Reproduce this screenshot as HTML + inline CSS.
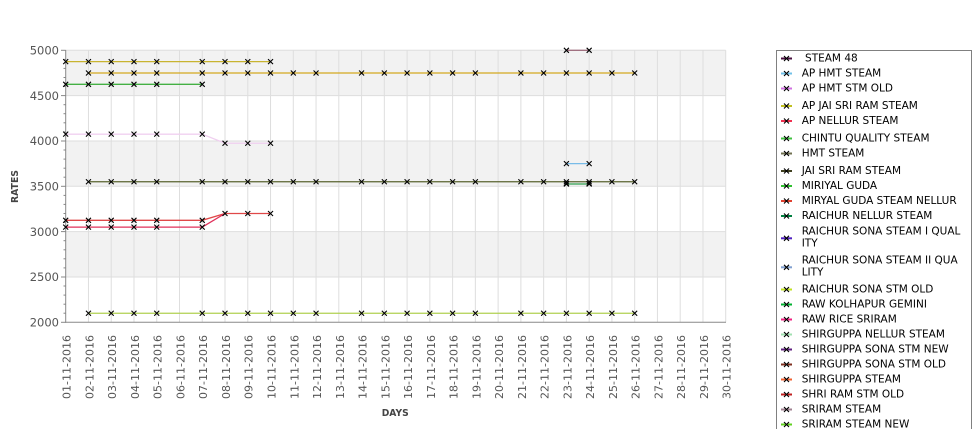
<!DOCTYPE html>
<html><head><meta charset="utf-8"><style>
html,body{margin:0;padding:0;background:#fff;}
svg{display:block;}
text{font-family:"DejaVu Sans","Liberation Sans",sans-serif;}
</style></head><body>
<svg width="975" height="429" viewBox="0 0 975 429" xmlns="http://www.w3.org/2000/svg">
<defs>
<path id="m" d="M-2.5,-2.5L2.5,2.5M2.5,-2.5L-2.5,2.5" stroke="#000" stroke-width="1.1" fill="none"/>
</defs>
<rect width="975" height="429" fill="#fff"/>
<!-- bands -->
<rect x="65.7" y="50.3" width="660" height="45.3" fill="#f2f2f2"/>
<rect x="65.7" y="141" width="660" height="45.3" fill="#f2f2f2"/>
<rect x="65.7" y="231.6" width="660" height="45.4" fill="#f2f2f2"/>
<!-- grid -->
<g stroke="#dedede" stroke-width="1">
<line x1="65.7" x2="725.7" y1="50.3" y2="50.3"/>
<line x1="65.7" x2="725.7" y1="95.6" y2="95.6"/>
<line x1="65.7" x2="725.7" y1="141" y2="141"/>
<line x1="65.7" x2="725.7" y1="186.3" y2="186.3"/>
<line x1="65.7" x2="725.7" y1="231.6" y2="231.6"/>
<line x1="65.7" x2="725.7" y1="277" y2="277"/>
<line x1="88.46" x2="88.46" y1="50.3" y2="322.3"/>
<line x1="111.22" x2="111.22" y1="50.3" y2="322.3"/>
<line x1="133.98" x2="133.98" y1="50.3" y2="322.3"/>
<line x1="156.74" x2="156.74" y1="50.3" y2="322.3"/>
<line x1="179.5" x2="179.5" y1="50.3" y2="322.3"/>
<line x1="202.25" x2="202.25" y1="50.3" y2="322.3"/>
<line x1="225.01" x2="225.01" y1="50.3" y2="322.3"/>
<line x1="247.77" x2="247.77" y1="50.3" y2="322.3"/>
<line x1="270.53" x2="270.53" y1="50.3" y2="322.3"/>
<line x1="293.29" x2="293.29" y1="50.3" y2="322.3"/>
<line x1="316.05" x2="316.05" y1="50.3" y2="322.3"/>
<line x1="338.81" x2="338.81" y1="50.3" y2="322.3"/>
<line x1="361.57" x2="361.57" y1="50.3" y2="322.3"/>
<line x1="384.33" x2="384.33" y1="50.3" y2="322.3"/>
<line x1="407.09" x2="407.09" y1="50.3" y2="322.3"/>
<line x1="429.85" x2="429.85" y1="50.3" y2="322.3"/>
<line x1="452.61" x2="452.61" y1="50.3" y2="322.3"/>
<line x1="475.37" x2="475.37" y1="50.3" y2="322.3"/>
<line x1="498.12" x2="498.12" y1="50.3" y2="322.3"/>
<line x1="520.88" x2="520.88" y1="50.3" y2="322.3"/>
<line x1="543.64" x2="543.64" y1="50.3" y2="322.3"/>
<line x1="566.4" x2="566.4" y1="50.3" y2="322.3"/>
<line x1="589.16" x2="589.16" y1="50.3" y2="322.3"/>
<line x1="611.92" x2="611.92" y1="50.3" y2="322.3"/>
<line x1="634.68" x2="634.68" y1="50.3" y2="322.3"/>
<line x1="657.44" x2="657.44" y1="50.3" y2="322.3"/>
<line x1="680.2" x2="680.2" y1="50.3" y2="322.3"/>
<line x1="702.96" x2="702.96" y1="50.3" y2="322.3"/>
<line x1="725.7" x2="725.7" y1="50.3" y2="322.3"/>
</g>
<!-- axes -->
<g stroke="#888" stroke-width="1">
<line x1="65.7" x2="65.7" y1="50" y2="322.8"/>
<line x1="65.2" x2="726" y1="322.3" y2="322.3"/>
<line x1="61" x2="65.7" y1="50.3" y2="50.3"/>
<line x1="61" x2="65.7" y1="95.6" y2="95.6"/>
<line x1="61" x2="65.7" y1="141" y2="141"/>
<line x1="61" x2="65.7" y1="186.3" y2="186.3"/>
<line x1="61" x2="65.7" y1="231.6" y2="231.6"/>
<line x1="61" x2="65.7" y1="277" y2="277"/>
<line x1="61" x2="65.7" y1="322.3" y2="322.3"/>
</g>
<g stroke="#888" stroke-width="1">
<line x1="63.5" x2="65.7" y1="59.4" y2="59.4"/><line x1="63.5" x2="65.7" y1="68.4" y2="68.4"/><line x1="63.5" x2="65.7" y1="77.5" y2="77.5"/><line x1="63.5" x2="65.7" y1="86.5" y2="86.5"/>
<line x1="63.5" x2="65.7" y1="104.7" y2="104.7"/><line x1="63.5" x2="65.7" y1="113.7" y2="113.7"/><line x1="63.5" x2="65.7" y1="122.8" y2="122.8"/><line x1="63.5" x2="65.7" y1="131.9" y2="131.9"/>
<line x1="63.5" x2="65.7" y1="150" y2="150"/><line x1="63.5" x2="65.7" y1="159.1" y2="159.1"/><line x1="63.5" x2="65.7" y1="168.2" y2="168.2"/><line x1="63.5" x2="65.7" y1="177.2" y2="177.2"/>
<line x1="63.5" x2="65.7" y1="195.4" y2="195.4"/><line x1="63.5" x2="65.7" y1="204.4" y2="204.4"/><line x1="63.5" x2="65.7" y1="213.5" y2="213.5"/><line x1="63.5" x2="65.7" y1="222.5" y2="222.5"/>
<line x1="63.5" x2="65.7" y1="240.7" y2="240.7"/><line x1="63.5" x2="65.7" y1="249.8" y2="249.8"/><line x1="63.5" x2="65.7" y1="258.8" y2="258.8"/><line x1="63.5" x2="65.7" y1="267.9" y2="267.9"/>
<line x1="63.5" x2="65.7" y1="286" y2="286"/><line x1="63.5" x2="65.7" y1="295.1" y2="295.1"/><line x1="63.5" x2="65.7" y1="304.2" y2="304.2"/><line x1="63.5" x2="65.7" y1="313.2" y2="313.2"/>
</g>
<!-- y labels -->
<g font-size="11.5" fill="#555" text-anchor="end">
<text x="59" y="54.5">5000</text>
<text x="59" y="99.8">4500</text>
<text x="59" y="145.2">4000</text>
<text x="59" y="190.5">3500</text>
<text x="59" y="235.8">3000</text>
<text x="59" y="281.2">2500</text>
<text x="59" y="326.5">2000</text>
</g>
<!-- x labels -->
<g font-size="11" fill="#555" text-anchor="end">
<text transform="translate(66.7,335) rotate(-90)" dy="0.36em">01-11-2016</text>
<text transform="translate(89.46,335) rotate(-90)" dy="0.36em">02-11-2016</text>
<text transform="translate(112.22,335) rotate(-90)" dy="0.36em">03-11-2016</text>
<text transform="translate(134.98,335) rotate(-90)" dy="0.36em">04-11-2016</text>
<text transform="translate(157.74,335) rotate(-90)" dy="0.36em">05-11-2016</text>
<text transform="translate(180.5,335) rotate(-90)" dy="0.36em">06-11-2016</text>
<text transform="translate(203.25,335) rotate(-90)" dy="0.36em">07-11-2016</text>
<text transform="translate(226.01,335) rotate(-90)" dy="0.36em">08-11-2016</text>
<text transform="translate(248.77,335) rotate(-90)" dy="0.36em">09-11-2016</text>
<text transform="translate(271.53,335) rotate(-90)" dy="0.36em">10-11-2016</text>
<text transform="translate(294.29,335) rotate(-90)" dy="0.36em">11-11-2016</text>
<text transform="translate(317.05,335) rotate(-90)" dy="0.36em">12-11-2016</text>
<text transform="translate(339.81,335) rotate(-90)" dy="0.36em">13-11-2016</text>
<text transform="translate(362.57,335) rotate(-90)" dy="0.36em">14-11-2016</text>
<text transform="translate(385.33,335) rotate(-90)" dy="0.36em">15-11-2016</text>
<text transform="translate(408.09,335) rotate(-90)" dy="0.36em">16-11-2016</text>
<text transform="translate(430.85,335) rotate(-90)" dy="0.36em">17-11-2016</text>
<text transform="translate(453.61,335) rotate(-90)" dy="0.36em">18-11-2016</text>
<text transform="translate(476.37,335) rotate(-90)" dy="0.36em">19-11-2016</text>
<text transform="translate(499.12,335) rotate(-90)" dy="0.36em">20-11-2016</text>
<text transform="translate(521.88,335) rotate(-90)" dy="0.36em">21-11-2016</text>
<text transform="translate(544.64,335) rotate(-90)" dy="0.36em">22-11-2016</text>
<text transform="translate(567.4,335) rotate(-90)" dy="0.36em">23-11-2016</text>
<text transform="translate(590.16,335) rotate(-90)" dy="0.36em">24-11-2016</text>
<text transform="translate(612.92,335) rotate(-90)" dy="0.36em">25-11-2016</text>
<text transform="translate(635.68,335) rotate(-90)" dy="0.36em">26-11-2016</text>
<text transform="translate(658.44,335) rotate(-90)" dy="0.36em">27-11-2016</text>
<text transform="translate(681.2,335) rotate(-90)" dy="0.36em">28-11-2016</text>
<text transform="translate(703.96,335) rotate(-90)" dy="0.36em">29-11-2016</text>
<text transform="translate(726.7,335) rotate(-90)" dy="0.36em">30-11-2016</text>
</g>
<!-- axis titles -->
<text x="381.7" y="416" font-size="10" font-weight="bold" fill="#444" textLength="27" lengthAdjust="spacingAndGlyphs">DAYS</text>
<text transform="translate(18,203) rotate(-90)" font-size="10" font-weight="bold" fill="#444" textLength="33" lengthAdjust="spacingAndGlyphs">RATES</text>
<!-- series lines -->
<g fill="none" stroke-width="1.3">
<polyline stroke="#c8b430" points="65.7,61.63 88.46,61.63 111.22,61.63 133.98,61.63 156.74,61.63 202.25,61.63 225.01,61.63 247.77,61.63 270.53,61.63"/>
<polyline stroke="#d4a820" points="88.46,72.97 111.22,72.97 133.98,72.97 156.74,72.97 202.25,72.97 225.01,72.97 247.77,72.97 270.53,72.97 293.29,72.97 316.05,72.97 361.57,72.97 384.33,72.97 407.09,72.97 429.85,72.97 452.61,72.97 475.37,72.97 520.88,72.97 543.64,72.97 566.4,72.97 589.16,72.97 611.92,72.97 634.68,72.97"/>
<polyline stroke="#44b044" points="65.7,84.3 88.46,84.3 111.22,84.3 133.98,84.3 156.74,84.3 202.25,84.3"/>
<polyline stroke="#f0d0f0" points="65.7,134.17 88.46,134.17 111.22,134.17 133.98,134.17 156.74,134.17 202.25,134.17 225.01,143.23 247.77,143.23 270.53,143.23"/>
<polyline stroke="#5a6430" points="88.46,181.77 111.22,181.77 133.98,181.77 156.74,181.77 202.25,181.77 225.01,181.77 247.77,181.77 270.53,181.77 293.29,181.77 316.05,181.77 361.57,181.77 384.33,181.77 407.09,181.77 429.85,181.77 452.61,181.77 475.37,181.77 520.88,181.77 543.64,181.77 566.4,181.77 589.16,181.77 611.92,181.77 634.68,181.77"/>
<polyline stroke="#e04848" points="65.7,220.3 88.46,220.3 111.22,220.3 133.98,220.3 156.74,220.3 202.25,220.3 225.01,213.5 247.77,213.5 270.53,213.5"/>
<polyline stroke="#e0305a" points="65.7,227.1 88.46,227.1 111.22,227.1 133.98,227.1 156.74,227.1 202.25,227.1 225.01,213.5"/>
<polyline stroke="#b0d050" points="88.46,313.23 111.22,313.23 133.98,313.23 156.74,313.23 202.25,313.23 225.01,313.23 247.77,313.23 270.53,313.23 293.29,313.23 316.05,313.23 361.57,313.23 384.33,313.23 407.09,313.23 429.85,313.23 452.61,313.23 475.37,313.23 520.88,313.23 543.64,313.23 566.4,313.23 589.16,313.23 611.92,313.23 634.68,313.23"/>
<polyline stroke="#a07080" points="566.4,50.3 589.16,50.3"/>
<polyline stroke="#78bce8" points="566.4,163.63 589.16,163.63"/>
<polyline stroke="#30a050" points="566.4,184.03 589.16,184.03"/>
</g>
<!-- markers -->
<g>
<use href="#m" x="65.7" y="61.63"/><use href="#m" x="88.46" y="61.63"/><use href="#m" x="111.22" y="61.63"/><use href="#m" x="133.98" y="61.63"/><use href="#m" x="156.74" y="61.63"/><use href="#m" x="202.25" y="61.63"/><use href="#m" x="225.01" y="61.63"/><use href="#m" x="247.77" y="61.63"/><use href="#m" x="270.53" y="61.63"/>
<use href="#m" x="65.7" y="84.3"/><use href="#m" x="88.46" y="84.3"/><use href="#m" x="111.22" y="84.3"/><use href="#m" x="133.98" y="84.3"/><use href="#m" x="156.74" y="84.3"/><use href="#m" x="202.25" y="84.3"/>
<use href="#m" x="65.7" y="134.17"/><use href="#m" x="88.46" y="134.17"/><use href="#m" x="111.22" y="134.17"/><use href="#m" x="133.98" y="134.17"/><use href="#m" x="156.74" y="134.17"/><use href="#m" x="202.25" y="134.17"/><use href="#m" x="225.01" y="143.23"/><use href="#m" x="247.77" y="143.23"/><use href="#m" x="270.53" y="143.23"/>
<use href="#m" x="65.7" y="220.3"/><use href="#m" x="88.46" y="220.3"/><use href="#m" x="111.22" y="220.3"/><use href="#m" x="133.98" y="220.3"/><use href="#m" x="156.74" y="220.3"/><use href="#m" x="202.25" y="220.3"/><use href="#m" x="225.01" y="213.5"/><use href="#m" x="247.77" y="213.5"/><use href="#m" x="270.53" y="213.5"/>
<use href="#m" x="65.7" y="227.1"/><use href="#m" x="88.46" y="227.1"/><use href="#m" x="111.22" y="227.1"/><use href="#m" x="133.98" y="227.1"/><use href="#m" x="156.74" y="227.1"/><use href="#m" x="202.25" y="227.1"/>
<use href="#m" x="566.4" y="50.3"/><use href="#m" x="589.16" y="50.3"/>
<use href="#m" x="566.4" y="163.63"/><use href="#m" x="589.16" y="163.63"/>
<use href="#m" x="566.4" y="184.03"/><use href="#m" x="589.16" y="184.03"/>
<use href="#m" x="566.4" y="183.5"/><use href="#m" x="589.16" y="183.5"/>
</g>
<g>
<use href="#m" x="88.46" y="72.97"/><use href="#m" x="111.22" y="72.97"/><use href="#m" x="133.98" y="72.97"/><use href="#m" x="156.74" y="72.97"/><use href="#m" x="202.25" y="72.97"/><use href="#m" x="225.01" y="72.97"/><use href="#m" x="247.77" y="72.97"/><use href="#m" x="270.53" y="72.97"/><use href="#m" x="293.29" y="72.97"/><use href="#m" x="316.05" y="72.97"/><use href="#m" x="361.57" y="72.97"/><use href="#m" x="384.33" y="72.97"/><use href="#m" x="407.09" y="72.97"/><use href="#m" x="429.85" y="72.97"/><use href="#m" x="452.61" y="72.97"/><use href="#m" x="475.37" y="72.97"/><use href="#m" x="520.88" y="72.97"/><use href="#m" x="543.64" y="72.97"/><use href="#m" x="566.4" y="72.97"/><use href="#m" x="589.16" y="72.97"/><use href="#m" x="611.92" y="72.97"/><use href="#m" x="634.68" y="72.97"/>
<use href="#m" x="88.46" y="181.77"/><use href="#m" x="111.22" y="181.77"/><use href="#m" x="133.98" y="181.77"/><use href="#m" x="156.74" y="181.77"/><use href="#m" x="202.25" y="181.77"/><use href="#m" x="225.01" y="181.77"/><use href="#m" x="247.77" y="181.77"/><use href="#m" x="270.53" y="181.77"/><use href="#m" x="293.29" y="181.77"/><use href="#m" x="316.05" y="181.77"/><use href="#m" x="361.57" y="181.77"/><use href="#m" x="384.33" y="181.77"/><use href="#m" x="407.09" y="181.77"/><use href="#m" x="429.85" y="181.77"/><use href="#m" x="452.61" y="181.77"/><use href="#m" x="475.37" y="181.77"/><use href="#m" x="520.88" y="181.77"/><use href="#m" x="543.64" y="181.77"/><use href="#m" x="566.4" y="181.77"/><use href="#m" x="589.16" y="181.77"/><use href="#m" x="611.92" y="181.77"/><use href="#m" x="634.68" y="181.77"/>
<use href="#m" x="88.46" y="313.23"/><use href="#m" x="111.22" y="313.23"/><use href="#m" x="133.98" y="313.23"/><use href="#m" x="156.74" y="313.23"/><use href="#m" x="202.25" y="313.23"/><use href="#m" x="225.01" y="313.23"/><use href="#m" x="247.77" y="313.23"/><use href="#m" x="270.53" y="313.23"/><use href="#m" x="293.29" y="313.23"/><use href="#m" x="316.05" y="313.23"/><use href="#m" x="361.57" y="313.23"/><use href="#m" x="384.33" y="313.23"/><use href="#m" x="407.09" y="313.23"/><use href="#m" x="429.85" y="313.23"/><use href="#m" x="452.61" y="313.23"/><use href="#m" x="475.37" y="313.23"/><use href="#m" x="520.88" y="313.23"/><use href="#m" x="543.64" y="313.23"/><use href="#m" x="566.4" y="313.23"/><use href="#m" x="589.16" y="313.23"/><use href="#m" x="611.92" y="313.23"/><use href="#m" x="634.68" y="313.23"/>
</g>
<!-- legend -->
<rect x="776.5" y="50.5" width="195" height="390" fill="#fff" stroke="#808080" stroke-width="1"/>
<g stroke-width="2">
<line x1="781" x2="792" y1="58.5" y2="58.5" stroke="#4a1040"/>
<line x1="781" x2="792" y1="73.5" y2="73.5" stroke="#70c0e8"/>
<line x1="781" x2="792" y1="88.5" y2="88.5" stroke="#d070e0"/>
<line x1="781" x2="792" y1="106" y2="106" stroke="#c0c020"/>
<line x1="781" x2="792" y1="121" y2="121" stroke="#f03050"/>
<line x1="781" x2="792" y1="138.5" y2="138.5" stroke="#40c040"/>
<line x1="781" x2="792" y1="153.5" y2="153.5" stroke="#707050"/>
<line x1="781" x2="792" y1="171" y2="171" stroke="#404020"/>
<line x1="781" x2="792" y1="186" y2="186" stroke="#30c030"/>
<line x1="781" x2="792" y1="201" y2="201" stroke="#e04030"/>
<line x1="781" x2="792" y1="216" y2="216" stroke="#008040"/>
<line x1="781" x2="792" y1="238.3" y2="238.3" stroke="#5020c0"/>
<line x1="781" x2="792" y1="267.3" y2="267.3" stroke="#80a0d0"/>
<line x1="781" x2="792" y1="289.5" y2="289.5" stroke="#c0e020"/>
<line x1="781" x2="792" y1="304.5" y2="304.5" stroke="#00b030"/>
<line x1="781" x2="792" y1="319.5" y2="319.5" stroke="#f02080"/>
<line x1="781" x2="792" y1="334.5" y2="334.5" stroke="#a0e0b0"/>
<line x1="781" x2="792" y1="349.5" y2="349.5" stroke="#602080"/>
<line x1="781" x2="792" y1="364.5" y2="364.5" stroke="#803020"/>
<line x1="781" x2="792" y1="379.5" y2="379.5" stroke="#f06030"/>
<line x1="781" x2="792" y1="394.5" y2="394.5" stroke="#c02020"/>
<line x1="781" x2="792" y1="409.5" y2="409.5" stroke="#a08090"/>
<line x1="781" x2="792" y1="424.5" y2="424.5" stroke="#60d020"/>
</g>
<g>
<use href="#m" x="786.5" y="58.5"/><use href="#m" x="786.5" y="73.5"/><use href="#m" x="786.5" y="88.5"/><use href="#m" x="786.5" y="106"/><use href="#m" x="786.5" y="121"/><use href="#m" x="786.5" y="138.5"/><use href="#m" x="786.5" y="153.5"/><use href="#m" x="786.5" y="171"/><use href="#m" x="786.5" y="186"/><use href="#m" x="786.5" y="201"/><use href="#m" x="786.5" y="216"/><use href="#m" x="786.5" y="238.3"/><use href="#m" x="786.5" y="267.3"/><use href="#m" x="786.5" y="289.5"/><use href="#m" x="786.5" y="304.5"/><use href="#m" x="786.5" y="319.5"/><use href="#m" x="786.5" y="334.5"/><use href="#m" x="786.5" y="349.5"/><use href="#m" x="786.5" y="364.5"/><use href="#m" x="786.5" y="379.5"/><use href="#m" x="786.5" y="394.5"/><use href="#m" x="786.5" y="409.5"/><use href="#m" x="786.5" y="424.5"/>
</g>
<g font-size="10.5" fill="#000" dominant-baseline="central">
<text x="801.7" y="58.5" xml:space="preserve"> STEAM 48</text>
<text x="801.7" y="73.5">AP HMT STEAM</text>
<text x="801.7" y="88.5">AP HMT STM OLD</text>
<text x="801.7" y="106">AP JAI SRI RAM STEAM</text>
<text x="801.7" y="121">AP NELLUR STEAM</text>
<text x="801.7" y="138.5">CHINTU QUALITY STEAM</text>
<text x="801.7" y="153.5">HMT STEAM</text>
<text x="801.7" y="171">JAI SRI RAM STEAM</text>
<text x="801.7" y="186">MIRIYAL GUDA</text>
<text x="801.7" y="201">MIRYAL GUDA STEAM NELLUR</text>
<text x="801.7" y="216">RAICHUR NELLUR STEAM</text>
<text x="801.7" y="231.3">RAICHUR SONA STEAM I QUAL</text>
<text x="801.7" y="243.5">ITY</text>
<text x="801.7" y="260.7">RAICHUR SONA STEAM II QUA</text>
<text x="801.7" y="272.5">LITY</text>
<text x="801.7" y="289.5">RAICHUR SONA STM OLD</text>
<text x="801.7" y="304.5">RAW KOLHAPUR GEMINI</text>
<text x="801.7" y="319.5">RAW RICE SRIRAM</text>
<text x="801.7" y="334.5">SHIRGUPPA NELLUR STEAM</text>
<text x="801.7" y="349.5">SHIRGUPPA SONA STM NEW</text>
<text x="801.7" y="364.5">SHIRGUPPA SONA STM OLD</text>
<text x="801.7" y="379.5">SHIRGUPPA STEAM</text>
<text x="801.7" y="394.5">SHRI RAM STM OLD</text>
<text x="801.7" y="409.5">SRIRAM STEAM</text>
<text x="801.7" y="424.5">SRIRAM STEAM NEW</text>
</g>
</svg>
</body></html>
